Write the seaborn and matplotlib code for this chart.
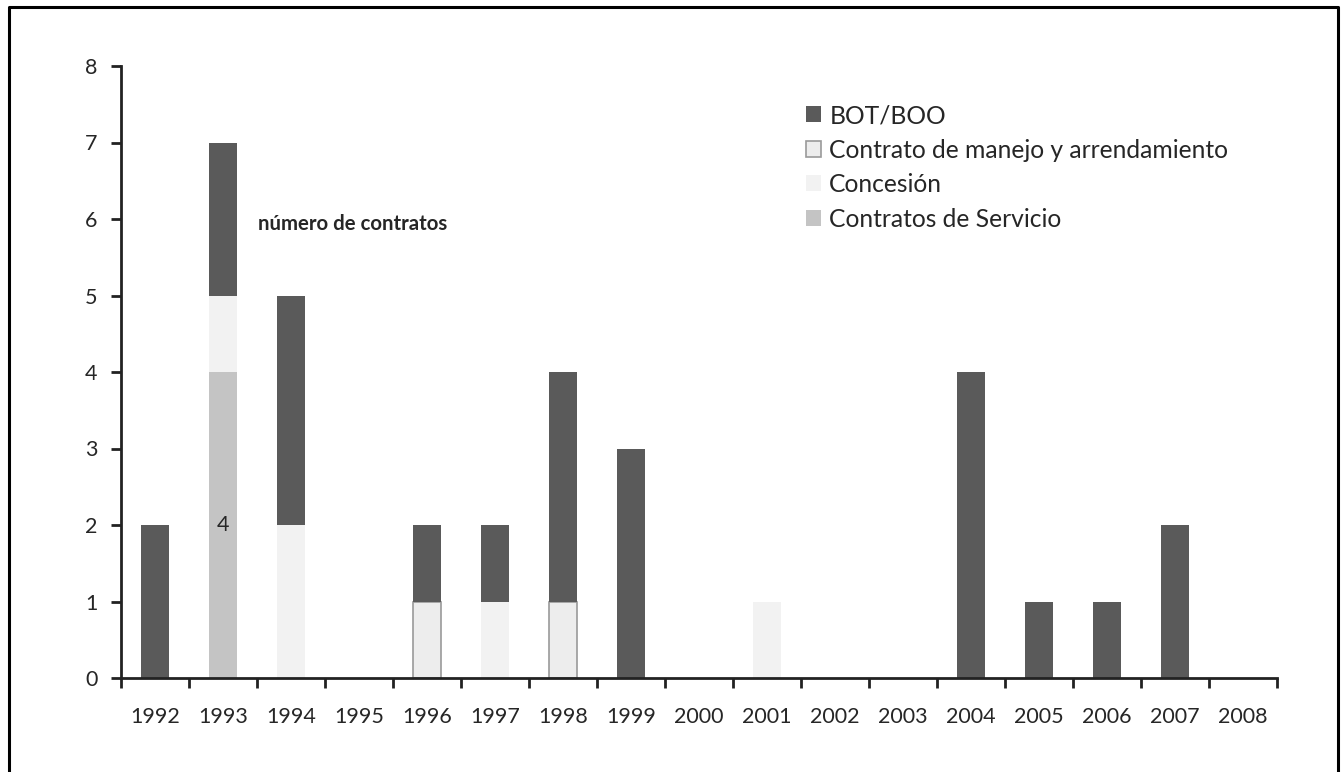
import numpy as np
import pandas as pd
import matplotlib
matplotlib.use("Agg")
import matplotlib.pyplot as plt
from matplotlib.patches import Patch
from matplotlib.lines import Line2D
import seaborn as sns

# Contracts per year, by type (stacked bottom to top: servicio, concesión, manejo, BOT/BOO)
years = [str(y) for y in range(1992, 2009)]
servicio = [0, 4, 0, 0, 0, 0, 0, 0, 0, 0, 0, 0, 0, 0, 0, 0, 0]
concesion = [0, 1, 2, 0, 0, 1, 0, 0, 0, 1, 0, 0, 0, 0, 0, 0, 0]
manejo = [0, 0, 0, 0, 1, 0, 1, 0, 0, 0, 0, 0, 0, 0, 0, 0, 0]
bot_boo = [2, 2, 3, 0, 1, 1, 3, 3, 0, 0, 0, 0, 4, 1, 1, 2, 0]

labels = ["BOT/BOO", "Contrato de manejo y arrendamiento", "Concesión",
          "Contratos de Servicio"]
y_ticks = list(range(0, 9))

sns.set_theme(style="white")
plt.rcParams["font.family"] = ["Lato", "DejaVu Sans"]

W, H = 1343, 772
fig = plt.figure(figsize=(W / 100, H / 100), dpi=100)
ax = fig.add_axes([121 / W, 1 - 678 / H, (1277 - 121) / W, (678 - 66) / H])

c_bot = "#5a5a5a"
c_man = "#ededed"
c_con = "#f2f2f2"
c_ser = "#c4c4c4"
txt = "#262626"

layers = [
    ("servicio", servicio, c_ser, dict(linewidth=0)),
    ("concesion", concesion, c_con, dict(linewidth=0)),
    ("manejo", manejo, c_man, dict(linewidth=1.2, edgecolor="#9a9a9a")),
    ("bot", bot_boo, c_bot, dict(linewidth=0)),
]

base = np.zeros(len(years))
containers = {}
for name, vals, col, kw in layers:
    vals = np.array(vals, dtype=float)
    mask = vals > 0
    df = pd.DataFrame({"year": np.array(years)[mask], "n": vals[mask]})
    sns.barplot(data=df, x="year", y="n", order=years, color=col, width=0.4,
                bottom=base[mask], saturation=1, errorbar=None, ax=ax, **kw)
    containers[name] = ax.containers[-1]
    base = base + vals

# value label inside the service-contract bar
ax.bar_label(containers["servicio"], labels=["4"], label_type="center",
             fontsize=15.5, color=txt)

ax.set_xlim(-0.5, len(years) - 0.5)
ax.set_ylim(0, 8)
ax.set_yticks(y_ticks)
ax.set_yticklabels([str(t) for t in y_ticks])
ax.set_xticks(range(len(years)))
ax.set_xticklabels(years)
ax.set_xticks(np.arange(-0.5, len(years)), minor=True)
ax.set_xlabel("")
ax.set_ylabel("")

for s in ["top", "right"]:
    ax.spines[s].set_visible(False)
for s in ["left", "bottom"]:
    ax.spines[s].set_linewidth(2)
    ax.spines[s].set_color("#222222")

ax.tick_params(axis="x", which="major", length=0, pad=21, labelsize=15.5,
               labelcolor=txt)
ax.tick_params(axis="x", which="minor", length=7, width=2, color="#222222",
               direction="out", bottom=True)
ax.tick_params(axis="y", length=7, width=2, color="#222222", direction="out",
               left=True, pad=10, labelsize=15.5, labelcolor=txt)
ax.grid(False)

ax.text(258 / W, 1 - 224 / H, "número de contratos", transform=fig.transFigure,
        fontsize=14.7, fontweight="bold", color=txt, ha="left",
        va="center")

handles = [
    Patch(facecolor=c_bot, edgecolor="none"),
    Patch(facecolor=c_man, edgecolor="#9a9a9a", linewidth=1.2),
    Patch(facecolor=c_con, edgecolor="none"),
    Patch(facecolor=c_ser, edgecolor="none"),
]
fig.legend(handles, labels, loc="upper left",
           bbox_to_anchor=(806 / W, 1 - 104 / H), frameon=False, fontsize=17.7,
           handlelength=0.62, handleheight=0.62, handletextpad=0.33,
           labelspacing=0.47, borderpad=0, borderaxespad=0,
           labelcolor=txt)

# frame around the figure (open at the bottom)
fig.add_artist(Line2D([9 / W, 9 / W, 1338 / W, 1338 / W],
                      [-0.02, 1 - 7 / H, 1 - 7 / H, -0.02],
                      transform=fig.transFigure, color="black", linewidth=2.2))

fig.savefig("out.png", dpi=100, facecolor="white")
